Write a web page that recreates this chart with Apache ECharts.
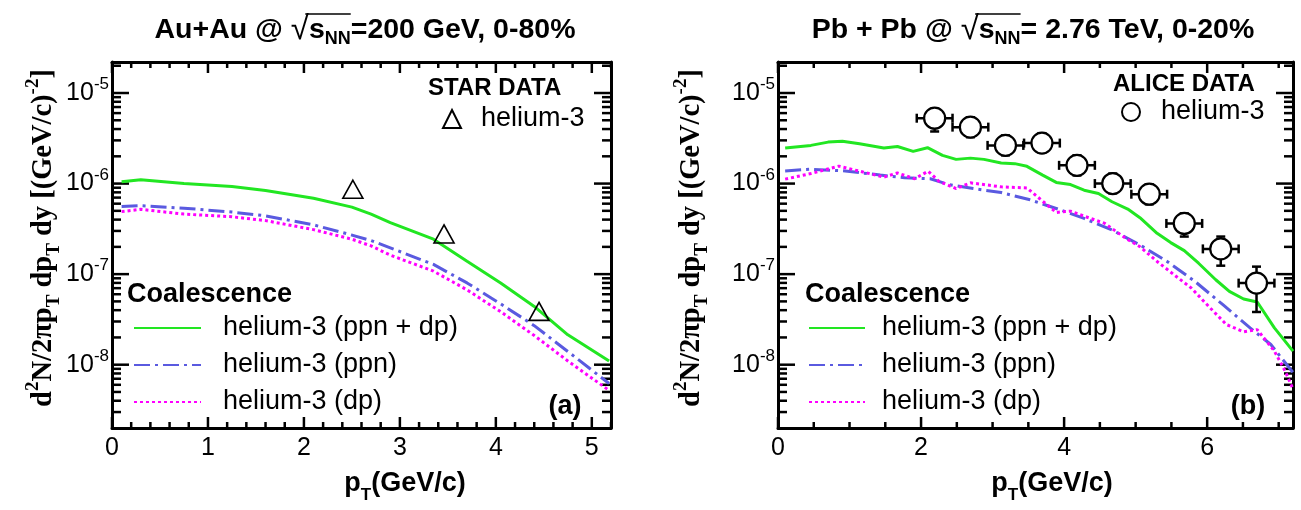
<!DOCTYPE html>
<html>
<head>
<meta charset="utf-8">
<script src="https://cdn.jsdelivr.net/npm/echarts@6.0.0/dist/echarts.min.js"></script>
<style>
  html, body { margin: 0; padding: 0; background: #fff; }
  #main { width: 1301px; height: 510px; }
</style>
</head>
<body>
<div id="main"></div>
<script>
// ---- panel (a): Au+Au @ 200 GeV, 0-80%, STAR ----
var ptCoalA = [0.1, 0.3, 0.75, 1.25, 1.6, 2.1, 2.5, 2.7, 2.9, 3.35, 3.7, 4.05, 4.4, 4.75, 5.18];
var he3SumA = [1.05e-6, 1.1e-6, 1.0e-6, 9.3e-7, 8.4e-7, 6.9e-7, 5.5e-7, 4.6e-7, 3.7e-7, 2.43e-7, 1.39e-7, 8.0e-8, 4.4e-8, 2.14e-8, 1.1e-8];
var he3PpnA = [5.6e-7, 5.7e-7, 5.35e-7, 4.85e-7, 4.4e-7, 3.5e-7, 2.7e-7, 2.35e-7, 1.95e-7, 1.28e-7, 8.0e-8, 4.7e-8, 2.7e-8, 1.4e-8, 6.2e-9];
var he3DpA  = [4.9e-7, 5.2e-7, 4.6e-7, 4.3e-7, 3.9e-7, 3.1e-7, 2.43e-7, 2.05e-7, 1.62e-7, 1.08e-7, 6.7e-8, 3.85e-8, 2.1e-8, 1.1e-8, 5.2e-9];
var ptStar  = [2.51, 3.46, 4.45];
var he3Star = [8.65e-7, 2.78e-7, 3.88e-8];

// ---- panel (b): Pb+Pb @ 2.76 TeV, 0-20%, ALICE ----
var ptSumB  = [0.1, 0.46, 0.7, 0.9, 1.14, 1.48, 1.67, 1.89, 2.09, 2.3, 2.49, 2.69, 2.88, 3.12, 3.31, 3.48, 3.7, 3.89, 4.09, 4.28, 4.48, 4.67, 4.89, 5.06, 5.3, 5.49, 5.68, 5.88, 6.12, 6.31, 6.51, 6.7, 6.94, 7.2];
var he3SumB = [2.47e-6, 2.64e-6, 2.87e-6, 2.94e-6, 2.75e-6, 2.47e-6, 2.57e-6, 2.27e-6, 2.49e-6, 2.05e-6, 1.85e-6, 1.91e-6, 1.85e-6, 1.69e-6, 1.66e-6, 1.55e-6, 1.24e-6, 1.03e-6, 9.75e-7, 8.45e-7, 7.77e-7, 6.3e-7, 5.23e-7, 4.2e-7, 2.82e-7, 2.23e-7, 1.82e-7, 1.32e-7, 8.67e-8, 6.45e-8, 5.31e-8, 4.92e-8, 2.55e-8, 1.41e-8];
var ptPpnB  = [0.1, 0.46, 0.94, 1.43, 1.77, 2.13, 2.39, 2.73, 3.12, 3.51, 3.89, 4.28, 4.67, 5.06, 5.44, 5.83, 6.22, 6.6, 6.89, 7.2];
var he3PpnB = [1.38e-6, 1.44e-6, 1.38e-6, 1.24e-6, 1.16e-6, 1.13e-6, 9.75e-7, 8.8e-7, 7.96e-7, 6.67e-7, 5.31e-7, 4.12e-7, 3.07e-7, 2.1e-7, 1.38e-7, 8.3e-8, 4.6e-8, 2.55e-8, 1.67e-8, 8.2e-9];
var ptDpB   = [0.1, 0.46, 0.85, 1.19, 1.48, 1.67, 1.91, 2.1, 2.25, 2.49, 2.69, 3.12, 3.48, 3.6, 3.89, 4.09, 4.28, 4.57, 4.86, 5.06, 5.3, 5.54, 5.78, 6.02, 6.27, 6.51, 6.7, 6.94, 7.09, 7.2];
var he3DpB  = [1.12e-6, 1.29e-6, 1.56e-6, 1.34e-6, 1.18e-6, 1.31e-6, 1.13e-6, 1.37e-6, 1.06e-6, 8.8e-7, 1.02e-6, 9.2e-7, 8.96e-7, 7.44e-7, 4.8e-7, 4.96e-7, 4.37e-7, 3.63e-7, 2.49e-7, 2.01e-7, 1.38e-7, 9.8e-8, 7.0e-8, 4.41e-8, 2.77e-8, 2.31e-8, 2.44e-8, 1.41e-8, 8.5e-9, 5.4e-9];
var ptAlice  = [2.19, 2.69, 3.18, 3.69, 4.18, 4.68, 5.19, 5.68, 6.19, 6.69];
var he3Alice = [5.27e-6, 4.2e-6, 2.64e-6, 2.8e-6, 1.59e-6, 1.0e-6, 7.63e-7, 3.63e-7, 1.9e-7, 7.96e-8];
var aliceLo  = [3.76e-6, 3.25e-6, 2.05e-6, 2.2e-6, 1.23e-6, 7.8e-7, 5.9e-7, 2.6e-7, 1.24e-7, 3.82e-8];
var aliceHi  = [6.67e-6, 5.4e-6, 3.4e-6, 3.6e-6, 2.05e-6, 1.29e-6, 9.8e-7, 4.68e-7, 2.6e-7, 1.21e-7];
var alicePtErr = 0.25;

// axis ranges and tick labels
var yMin = 2e-9, yMax = 2.2e-5;
var yDecades = [1e-8, 1e-7, 1e-6, 1e-5];
var xMajorA = [0, 1, 2, 3, 4, 5];
var xMajorB = [0, 2, 4, 6];

var SANS = '"Liberation Sans", Arial, sans-serif';
var SERIF = '"Liberation Serif", "Times New Roman", serif';
var GREEN = '#22e622', BLUE = '#5a5ae0', MAGENTA = '#ff00ff';

// log minor tick values 2..9 x 10^n inside the y range
var yMinor = [];
for (var e = -9; e <= -5; e++) {
  for (var m = 2; m <= 9; m++) {
    var v = m * Math.pow(10, e);
    if (v > yMin && v < yMax) yMinor.push(v);
  }
}
function minorList(step, max, majors) {
  var out = [];
  for (var i = 0; i * step <= max + 1e-9; i++) {
    var t = +(i * step).toFixed(3);
    if (majors.indexOf(t) < 0) out.push(t);
  }
  return out;
}

function pairs(xs, ys) {
  return xs.map(function (x, i) { return [x, ys[i]]; });
}

var grids = [], xAxes = [], yAxes = [];

function isDecade(v) {
  var l = Math.log10(v);
  return Math.abs(l - Math.round(l)) < 1e-6;
}
function powLabel(v) {
  if (!isDecade(v)) return '';
  return '{m|10}{e|' + Math.round(Math.log10(v)) + '}';
}

// one panel = 2 overlapping grids: main axes (bottom/left) and the mirrored frame (top/right)
function buildPanel(rect, xMax, xStep) {
  var base = grids.length;
  for (var k = 0; k < 2; k++) {
    grids.push({ left: rect.left, top: rect.top, width: rect.width, height: rect.height });
  }
  function xAx(g, pos, lbl) {
    xAxes.push({
      gridIndex: g, type: 'value', position: pos, min: 0, max: xMax, interval: xStep,
      axisLine: { show: true, onZero: false, lineStyle: { color: '#000', width: 3 } },
      axisTick: { show: false },
      axisLabel: lbl ? { show: true, margin: 8, color: '#000', fontSize: 25, fontFamily: SANS,
                         showMinLabel: true, showMaxLabel: false } : { show: false },
      splitLine: { show: false }
    });
  }
  function yAx(g, pos, lbl) {
    yAxes.push({
      gridIndex: g, type: 'log', logBase: 10, position: pos, min: yMin, max: yMax,
      axisLine: { show: true, onZero: false, lineStyle: { color: '#000', width: 3 } },
      axisTick: { show: false },
      axisLabel: lbl ? {
        show: true, margin: 3, formatter: powLabel, showMinLabel: false, showMaxLabel: false,
        rich: {
          m: { fontSize: 25, fontFamily: SANS, color: '#000', lineHeight: 34, verticalAlign: 'middle' },
          e: { fontSize: 17, fontFamily: SANS, color: '#000', lineHeight: 17, verticalAlign: 'top' }
        }
      } : { show: false },
      splitLine: { show: false }
    });
  }
  xAx(base, 'bottom', true);
  yAx(base, 'left', true);
  xAx(base + 1, 'top', false);
  yAx(base + 1, 'right', false);
  return base;
}

var pa = buildPanel({ left: 112, top: 62, width: 499, height: 366 }, 5.2, 1);
var pb = buildPanel({ left: 778, top: 62, width: 515, height: 366 }, 7.2, 2);

function curve(name, idx, xs, ys, color, type) {
  return {
    name: name, type: 'line', xAxisIndex: idx, yAxisIndex: idx,
    data: pairs(xs, ys), symbol: 'none', smooth: false, z: 3,
    lineStyle: { color: color, width: 3, type: type },
    itemStyle: { color: color }
  };
}

function seg(x1, y1, x2, y2, w) {
  return { type: 'line', shape: { x1: x1, y1: y1, x2: x2, y2: y2 },
           style: { stroke: '#000', lineWidth: w } };
}

function renderErrBar(params, api) {
  var x = api.value(0), y = api.value(1), dx = api.value(2);
  var lo = api.value(3), hi = api.value(4);
  var pL = api.coord([x - dx, y]), pR = api.coord([x + dx, y]);
  var pB = api.coord([x, lo]), pT = api.coord([x, hi]);
  var c = 4.5;
  return {
    type: 'group',
    children: [
      seg(pL[0], pL[1], pR[0], pR[1], 2.5),
      seg(pL[0], pL[1] - c, pL[0], pL[1] + c, 2.5),
      seg(pR[0], pR[1] - c, pR[0], pR[1] + c, 2.5),
      seg(pB[0], pB[1], pT[0], pT[1], 2.5),
      seg(pB[0] - c, pB[1], pB[0] + c, pB[1], 2.5),
      seg(pT[0] - c, pT[1], pT[0] + c, pT[1], 2.5)
    ]
  };
}

// inward ticks on all four frame edges, placed through the axis scales
// item: [x, y, kind (0 = x tick, 1 = y tick), length]
function renderFrameTick(params, api) {
  var cs = params.coordSys;
  var kind = api.value(2), len = api.value(3);
  var p = api.coord([api.value(0), api.value(1)]);
  var bottom = cs.y + cs.height, right = cs.x + cs.width;
  if (kind === 0) {
    return { type: 'group', children: [
      seg(p[0], bottom, p[0], bottom - len, 2.5),
      seg(p[0], cs.y, p[0], cs.y + len, 2.5)
    ] };
  }
  return { type: 'group', children: [
    seg(cs.x, p[1], cs.x + len, p[1], 2.5),
    seg(right - len, p[1], right, p[1], 2.5)
  ] };
}
function frameTicks(idx, xMajor, xMinor) {
  var items = [];
  xMajor.forEach(function (t) { items.push([t, yMax, 0, 11]); });
  xMinor.forEach(function (t) { items.push([t, yMax, 0, 6]); });
  yDecades.forEach(function (t) { items.push([0, t, 1, 17]); });
  yMinor.forEach(function (t) { items.push([0, t, 1, 9]); });
  return {
    type: 'custom', xAxisIndex: idx, yAxisIndex: idx, silent: true, z: 1,
    renderItem: renderFrameTick, encode: { x: 0, y: 1 }, data: items
  };
}

var DASHDOT = [16, 5, 3, 5];
var DOTS = [3, 3];

var series = [
  frameTicks(pa, xMajorA, minorList(0.2, 5.2, xMajorA)),
  frameTicks(pb, xMajorB, minorList(0.5, 7.2, xMajorB)),
  curve('helium-3 (ppn + dp)', pa, ptCoalA, he3SumA, GREEN, 'solid'),
  curve('helium-3 (ppn)', pa, ptCoalA, he3PpnA, BLUE, DASHDOT),
  curve('helium-3 (dp)', pa, ptCoalA, he3DpA, MAGENTA, DOTS),
  {
    name: 'helium-3', type: 'scatter', xAxisIndex: pa, yAxisIndex: pa,
    data: pairs(ptStar, he3Star), symbol: 'triangle', symbolSize: [20, 18], z: 5,
    itemStyle: { color: 'rgba(0,0,0,0)', borderColor: '#000', borderWidth: 1.6, opacity: 1 }
  },
  curve('helium-3 (ppn + dp)', pb, ptSumB, he3SumB, GREEN, 'solid'),
  curve('helium-3 (ppn)', pb, ptPpnB, he3PpnB, BLUE, DASHDOT),
  curve('helium-3 (dp)', pb, ptDpB, he3DpB, MAGENTA, DOTS),
  {
    type: 'custom', xAxisIndex: pb, yAxisIndex: pb, z: 4,
    renderItem: renderErrBar, encode: { x: 0, y: 1 },
    data: ptAlice.map(function (x, i) { return [x, he3Alice[i], alicePtErr, aliceLo[i], aliceHi[i]]; })
  },
  {
    name: 'helium-3', type: 'scatter', xAxisIndex: pb, yAxisIndex: pb,
    data: pairs(ptAlice, he3Alice), symbol: 'circle', symbolSize: 21, z: 6,
    itemStyle: { color: '#fff', borderColor: '#000', borderWidth: 2.2, opacity: 1 }
  }
];

var LEG_TEXT = { fontSize: 27, fontFamily: SANS, color: '#000', lineHeight: 30 };
function lineLegend(left, iconW, pad) {
  return {
    data: ['helium-3 (ppn + dp)', 'helium-3 (ppn)', 'helium-3 (dp)'],
    orient: 'vertical', left: left, top: 313, itemWidth: iconW, itemHeight: 14, itemGap: 7,
    selectedMode: false, padding: 0, itemStyle: { opacity: 0 },
    textStyle: Object.assign({ padding: [0, 0, 0, pad] }, LEG_TEXT)
  };
}
function dataLegend(left, top, icon, pad) {
  return {
    data: [{ name: 'helium-3', icon: icon }],
    left: left, top: top, itemWidth: 18, itemHeight: 18, padding: 0, selectedMode: false,
    itemStyle: { opacity: 1 },
    textStyle: Object.assign({ padding: [0, 0, 0, pad] }, LEG_TEXT)
  };
}

// sqrt(s_NN) overline placement from measured text widths
var ctx = document.createElement('canvas').getContext('2d');
function tw(str, font) { ctx.font = font; return ctx.measureText(str).width; }
var T_SIZE = 28.5;
var F_N = 'bold ' + T_SIZE + 'px ' + SANS, F_R = 'normal 33px ' + SANS, F_S = 'bold 18px ' + SANS;
function titleItems(cx, cy, pre, post) {
  var w1 = tw(pre, F_N), wr = tw('√', F_R), ws = tw('s', F_N), wn = tw('NN', F_S), w2 = tw(post, F_N);
  var x0 = cx - (w1 + wr + ws + wn + w2) / 2;
  var xa = x0 + w1 + wr * 0.8, xb = x0 + w1 + wr + ws + wn;
  return [
    {
      type: 'text', x: cx, y: cy,
      style: {
        text: '{n|' + pre + '}{r|√}{n|s}{s|NN}{n|' + post + '}',
        align: 'center', verticalAlign: 'middle', fill: '#000',
        rich: {
          n: { fontFamily: SANS, fontWeight: 'bold', fontSize: T_SIZE, lineHeight: 36, verticalAlign: 'middle' },
          r: { fontFamily: SANS, fontWeight: 'normal', fontSize: 33, lineHeight: 36, verticalAlign: 'middle' },
          s: { fontFamily: SANS, fontWeight: 'bold', fontSize: 18, lineHeight: 18, verticalAlign: 'bottom' }
        }
      }
    },
    { type: 'line', shape: { x1: xa, y1: cy - 16, x2: xb, y2: cy - 16 }, style: { stroke: '#000', lineWidth: 1.5 } }
  ];
}

function yTitle(x, y) {
  return {
    type: 'text', x: x, y: y, rotation: Math.PI / 2,
    style: {
      text: '{n|d}{p|2}{n|N/2πp}{b|T}{n| dp}{b|T}{n| dy [(GeV/c)}{p|-2}{n|]}',
      align: 'center', verticalAlign: 'middle', fill: '#000',
      rich: {
        n: { fontFamily: SERIF, fontWeight: 'bold', fontSize: 28.5, lineHeight: 40, verticalAlign: 'middle' },
        p: { fontFamily: SERIF, fontWeight: 'bold', fontSize: 19, lineHeight: 18, verticalAlign: 'top' },
        b: { fontFamily: SERIF, fontWeight: 'bold', fontSize: 19, lineHeight: 18, verticalAlign: 'bottom' }
      }
    }
  };
}
function xTitle(x, y) {
  return {
    type: 'text', x: x, y: y,
    style: {
      text: '{n|p}{b|T}{n|(GeV/c)}', align: 'center', verticalAlign: 'middle', fill: '#000',
      rich: {
        n: { fontFamily: SANS, fontWeight: 'bold', fontSize: 27, lineHeight: 40, verticalAlign: 'middle' },
        b: { fontFamily: SANS, fontWeight: 'bold', fontSize: 17, lineHeight: 17, verticalAlign: 'bottom' }
      }
    }
  };
}
function label(x, y, txt, size, weight, align) {
  return {
    type: 'text', x: x, y: y,
    style: { text: txt, fill: '#000', fontFamily: SANS, fontSize: size, fontWeight: weight,
             align: align || 'left', verticalAlign: 'middle' }
  };
}

var graphics = []
  .concat(titleItems(365, 30, 'Au+Au @ ', '=200 GeV, 0-80%'))
  .concat(titleItems(1033, 30, 'Pb + Pb @ ', '= 2.76 TeV, 0-20%'))
  .concat([
    yTitle(44, 238), yTitle(692, 238),
    xTitle(405, 484), xTitle(1052, 484),
    label(127, 295, 'Coalescence', 27, 'bold'),
    label(805, 295, 'Coalescence', 27, 'bold'),
    label(428, 88, 'STAR DATA', 24, 'bold'),
    label(1113, 84, 'ALICE DATA', 24, 'bold'),
    label(565, 407, '(a)', 27, 'bold', 'center'),
    label(1248, 407, '(b)', 27, 'bold', 'center')
  ]);

var chart = echarts.init(document.getElementById('main'), null, { renderer: 'canvas' });
chart.setOption({
  animation: false,
  backgroundColor: '#fff',
  textStyle: { fontFamily: SANS },
  grid: grids,
  xAxis: xAxes,
  yAxis: yAxes,
  legend: [
    lineLegend(133, 67, 17),
    lineLegend(808, 56, 12),
    dataLegend(442, 104, 'triangle', 15),
    dataLegend(1121, 97, 'circle', 16)
  ],
  graphic: graphics,
  series: series
});
</script>
</body>
</html>
